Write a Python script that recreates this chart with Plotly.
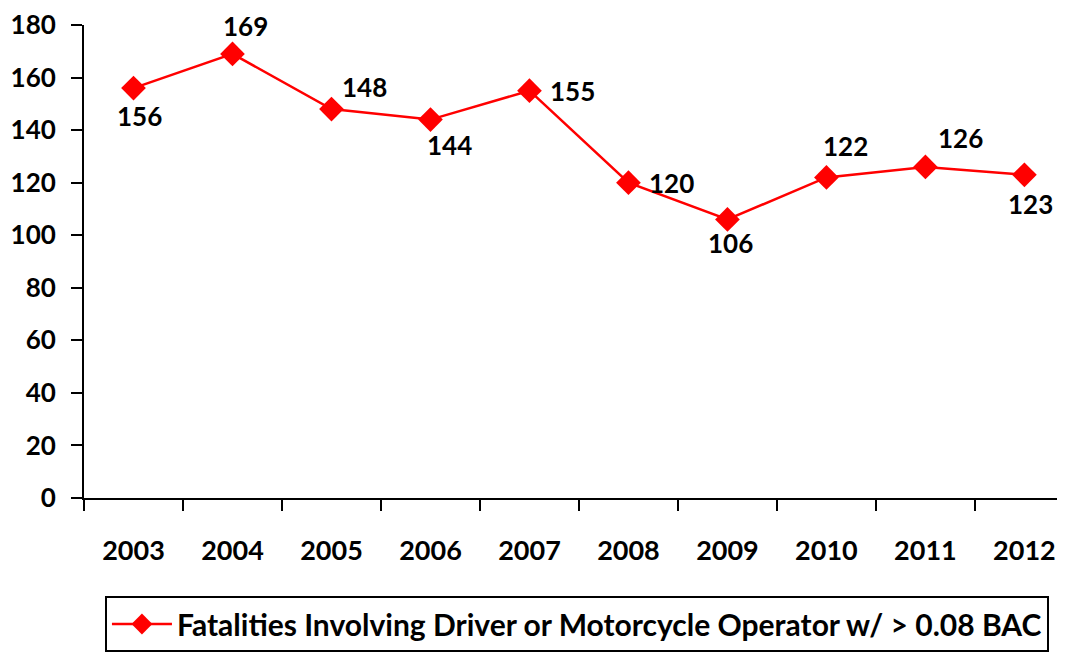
import plotly.graph_objects as go

years = ["2003", "2004", "2005", "2006", "2007", "2008", "2009", "2010", "2011", "2012"]
fatalities = [156, 169, 148, 144, 155, 120, 106, 122, 126, 123]
# pixel offsets of each data label relative to its point (style only)
label_dx = [6, 13, 33, 19, 43, 43, 3, 19, 35, 6]
label_dy = [-28, 28, 22, -25, 0, 0, -24, 31, 29, -29]
y_ticks = [0, 20, 40, 60, 80, 100, 120, 140, 160, 180]
series_name = "Fatalities Involving Driver or Motorcycle Operator w/ > 0.08 BAC"

FONT = "Lato"
fig = go.Figure()
fig.add_trace(go.Scatter(
    x=years, y=fatalities, mode="lines+markers",
    name=series_name,
    line=dict(color="#ff0000", width=2.5),
    marker=dict(symbol="diamond", size=19, color="#ff0000"),
    cliponaxis=False,
))

for i, (v, dx, dy) in enumerate(zip(fatalities, label_dx, label_dy)):
    fig.add_annotation(x=i, y=v, xref="x", yref="y", text=str(v), showarrow=False,
                       xshift=dx, yshift=dy, xanchor="center", yanchor="middle",
                       font=dict(family=FONT, size=26, color="black", weight="bold"))

fig.update_layout(
    width=1057, height=644,
    margin=dict(l=76, r=0, t=17, b=151),
    paper_bgcolor="white", plot_bgcolor="white",
    font=dict(family=FONT, size=26, color="black", weight="bold"),
    showlegend=True,
    legend=dict(orientation="h", x=0.5025, xanchor="center", y=-0.208, yanchor="top",
                bordercolor="black", borderwidth=2, itemwidth=60,
                font=dict(family=FONT, size=30, color="black", weight="bold")),
    xaxis=dict(type="category", range=[-0.5, 9.41], showgrid=False,
               showline=True, linecolor="black", linewidth=2,
               ticks="outside", tickson="boundaries", ticklen=11, tickwidth=2, tickcolor="black",
               ticklabelstandoff=28,
               tickfont=dict(family=FONT, size=27, color="black", weight="bold")),
    yaxis=dict(range=[0, 180], tickvals=y_ticks, showgrid=False, zeroline=False,
               showline=True, linecolor="black", linewidth=2,
               ticks="outside", ticklen=11, tickwidth=2, tickcolor="black",
               ticklabelstandoff=10,
               tickfont=dict(family=FONT, size=26, color="black", weight="bold")),
)

fig.write_html("out.html")
